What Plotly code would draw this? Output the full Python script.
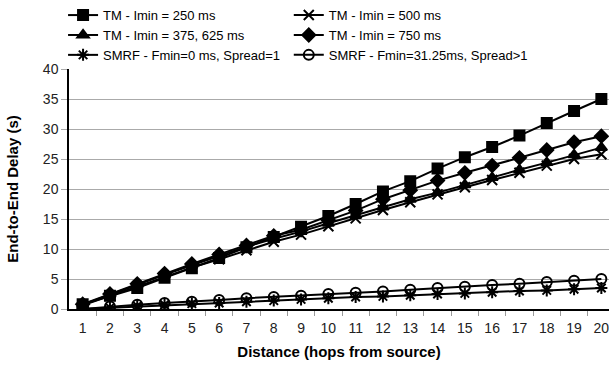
import plotly.graph_objects as go

hops = list(range(1, 21))
tm_250 = [0.8, 2.2, 3.5, 5.2, 6.8, 8.5, 10.3, 12.0, 13.7, 15.5, 17.5, 19.6, 21.3, 23.4, 25.3, 27.0, 28.9, 31.0, 33.0, 35.0]
tm_500 = [0.6, 2.2, 3.8, 5.4, 6.9, 8.3, 9.8, 11.2, 12.4, 13.8, 15.1, 16.5, 17.8, 19.1, 20.3, 21.5, 22.7, 23.9, 25.0, 25.8]
tm_375 = [0.7, 2.4, 4.1, 5.7, 7.3, 8.9, 10.4, 11.7, 12.9, 14.3, 15.6, 17.0, 18.3, 19.4, 20.7, 21.9, 23.2, 24.4, 25.7, 26.9]
tm_750 = [0.8, 2.5, 4.2, 5.9, 7.5, 9.1, 10.6, 12.2, 13.2, 14.8, 16.4, 18.3, 19.8, 21.4, 22.7, 23.9, 25.2, 26.5, 27.8, 28.8]
smrf_0 = [0.0, 0.2, 0.5, 0.7, 0.9, 1.0, 1.2, 1.4, 1.6, 1.8, 2.0, 2.1, 2.3, 2.5, 2.6, 2.8, 3.0, 3.1, 3.3, 3.5]
smrf_31 = [0.0, 0.4, 0.7, 1.0, 1.2, 1.5, 1.8, 2.0, 2.2, 2.5, 2.7, 2.9, 3.2, 3.5, 3.7, 4.0, 4.2, 4.5, 4.7, 5.0]

names = ["TM - Imin = 250 ms", "TM - Imin = 500 ms", "TM - Imin = 375, 625 ms",
         "TM - Imin = 750 ms", "SMRF - Fmin=0 ms, Spread=1", "SMRF - Fmin=31.25ms, Spread>1"]
series = [tm_250, tm_500, tm_375, tm_750, smrf_0, smrf_31]
symbols = ["square", "x-thin-open", "triangle-up", "diamond", "asterisk-open", "circle-open"]
legend_ids = ["legend", "legend2", "legend", "legend2", "legend", "legend2"]

fig = go.Figure()
for name, ys, sym, lg in zip(names, series, symbols, legend_ids):
    fig.add_trace(go.Scatter(
        x=hops, y=ys, name=name, mode="lines+markers", legend=lg,
        line=dict(color="black", width=2),
        marker=dict(symbol=sym, size=10, color="black", line=dict(color="black", width=2)),
    ))

leg_common = dict(orientation="v", yanchor="top", xanchor="left",
                  font=dict(size=13, color="black"), tracegroupgap=0, itemwidth=30,
                  bgcolor="rgba(0,0,0,0)")

fig.update_layout(
    width=609, height=366,
    margin=dict(l=69, r=0, t=69, b=57, autoexpand=False),
    plot_bgcolor="white", paper_bgcolor="white",
    font=dict(family="Liberation Sans, Arial, sans-serif", color="black", size=14),
    showlegend=True,
    legend=dict(x=-0.011, y=1.287, **leg_common),
    legend2=dict(x=0.407, y=1.287, **leg_common),
    xaxis=dict(
        range=[0.5, 20.28], tickmode="array", tickvals=hops, ticktext=[str(h) for h in hops],
        ticks="", showgrid=False, showline=True, linecolor="black", linewidth=1.5,
        tickfont=dict(size=14, color="#222"), ticklabeloverflow="allow", ticklabelstandoff=5,
        minor=dict(tickmode="array", tickvals=[h + 0.5 for h in hops[:-1]], ticks="outside", ticklen=5, tickcolor="#999", showgrid=False),
        title=dict(text="<b>Distance (hops from source)</b>", font=dict(size=15), standoff=12),
        zeroline=False,
    ),
    yaxis=dict(
        range=[0, 40], dtick=5, ticks="outside", ticklen=6, tickcolor="#aaa",
        showgrid=True, gridcolor="#aaa", gridwidth=1,
        showline=True, linecolor="black", linewidth=1.5,
        tickfont=dict(size=14, color="#222"),
        title=dict(text="<b>End-to-End Delay (s)</b>", font=dict(size=15), standoff=21),
        zeroline=False,
    ),
)

fig.write_html("out.html", config={"displayModeBar": False},
               post_script="document.body.style.margin='0';document.body.style.overflow='hidden';")
